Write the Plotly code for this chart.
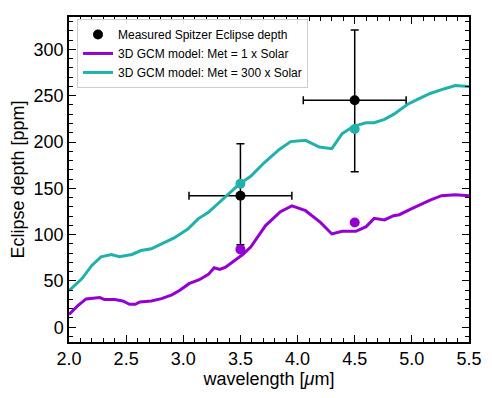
import plotly.graph_objects as go

# Measured Spitzer eclipse depths
obs_wl = [3.5, 4.5]
obs_depth = [142, 245]
obs_xerr = [0.45, 0.45]
obs_yerr_plus = [56, 76]
obs_yerr_minus = [53, 77]

# Band-averaged model points
band_wl = [3.5, 4.5]
band_solar = [84, 113]
band_300 = [155, 214]

# 3D GCM model: Met = 1 x Solar
wl_1x = [2.0, 2.01, 2.08, 2.15, 2.27, 2.31, 2.40, 2.47, 2.53, 2.58, 2.62, 2.72, 2.81, 2.90, 2.97,
         3.05, 3.14, 3.22, 3.27, 3.32, 3.37, 3.45, 3.52, 3.59, 3.72, 3.85, 3.95, 4.07, 4.20,
         4.30, 4.39, 4.51, 4.60, 4.67, 4.76, 4.84, 4.89, 4.99, 5.16, 5.26, 5.38, 5.50]
depth_1x = [14, 15, 23.5, 30.5, 32, 29.8, 30, 28.3, 24.7, 24.7, 27.2, 28.3, 30.8, 35, 39.8,
            47, 51.3, 57, 64.2, 62.4, 64.9, 72, 78.5, 86.5, 109.7, 124.7, 131, 125.8, 113.2,
            100.7, 103.6, 103.6, 108.6, 117.5, 115.8, 120.4, 121.5, 127.6, 137.3, 142, 143, 142]

# 3D GCM model: Met = 300 x Solar
wl_300x = [2.0, 2.02, 2.11, 2.20, 2.28, 2.37, 2.44, 2.55, 2.63, 2.72, 2.81, 2.92, 3.04, 3.13,
           3.22, 3.30, 3.39, 3.49, 3.59, 3.71, 3.84, 3.94, 4.07, 4.19, 4.30, 4.39, 4.49, 4.60,
           4.67, 4.76, 4.84, 4.96, 5.05, 5.16, 5.28, 5.38, 5.50]
depth_300x = [40, 41.6, 52, 66.7, 76, 78.5, 76, 78.5, 82.8, 84.6, 90, 96.4, 106, 117,
              124, 133, 143.7, 154.5, 163, 177.8, 192, 200.4, 201.8, 194.6, 192.8, 209, 217, 220.8,
              220.8, 224.4, 229.8, 240.5, 246, 252.4, 257.3, 261, 260]

x_ticks = [2.0, 2.5, 3.0, 3.5, 4.0, 4.5, 5.0, 5.5]
y_ticks = [0, 50, 100, 150, 200, 250, 300]

PURPLE = "#9400d3"
TEAL = "#20b2aa"
FONT = "Liberation Sans, Arial, Helvetica, sans-serif"

fig = go.Figure()

fig.add_trace(go.Scatter(
    x=obs_wl, y=obs_depth, mode="markers",
    marker=dict(color="black", size=10),
    error_x=dict(type="data", array=obs_xerr, color="black", thickness=1.5, width=4),
    error_y=dict(type="data", array=obs_yerr_plus, arrayminus=obs_yerr_minus,
                 color="black", thickness=1.5, width=4),
    name="Measured Spitzer Eclipse depth",
))
fig.add_trace(go.Scatter(
    x=wl_1x, y=depth_1x, mode="lines",
    line=dict(color=PURPLE, width=3),
    name="3D GCM model: Met = 1 x Solar",
))
fig.add_trace(go.Scatter(
    x=wl_300x, y=depth_300x, mode="lines",
    line=dict(color=TEAL, width=3),
    name="3D GCM model: Met = 300 x Solar",
))
fig.add_trace(go.Scatter(
    x=band_wl, y=band_solar, mode="markers",
    marker=dict(color=PURPLE, size=10), showlegend=False,
))
fig.add_trace(go.Scatter(
    x=band_wl, y=band_300, mode="markers",
    marker=dict(color=TEAL, size=10), showlegend=False,
))

axis_common = dict(
    showgrid=False, zeroline=False, showline=True, linecolor="black", linewidth=1.5,
    mirror="ticks", ticks="inside", ticklen=7, tickwidth=1.2, tickcolor="black",
    tickfont=dict(family=FONT, size=18, color="black"),
)

# the page body adds an 8px offset, so margins are reduced by 8px on left/top
fig.update_layout(
    width=492, height=398,
    margin=dict(l=59, r=31, t=7, b=64),
    paper_bgcolor="white", plot_bgcolor="white",
    font=dict(family=FONT, color="black"),
    xaxis=dict(
        range=[2.0, 5.5], tickvals=x_ticks, ticktext=[f"{v:.1f}" for v in x_ticks],
        minor=dict(ticks="inside", ticklen=4, dtick=0.1, tick0=2.0, tickcolor="black", tickwidth=1),
        title=dict(text="wavelength [<i>μ</i>m]", font=dict(size=18), standoff=2),
        **axis_common,
    ),
    yaxis=dict(
        range=[-16, 335], tickvals=y_ticks,
        minor=dict(ticks="inside", ticklen=4, dtick=10, tick0=0, tickcolor="black", tickwidth=1),
        title=dict(text="Eclipse depth [ppm]", font=dict(size=18), standoff=6),
        **axis_common,
    ),
    legend=dict(
        x=0.02, y=0.994, xanchor="left", yanchor="top",
        bgcolor="rgba(255,255,255,0.9)", bordercolor="#cccccc", borderwidth=1,
        font=dict(size=12, color="black"), tracegroupgap=0, itemwidth=30,
    ),
    showlegend=True,
)

fig.write_html("out.html")
